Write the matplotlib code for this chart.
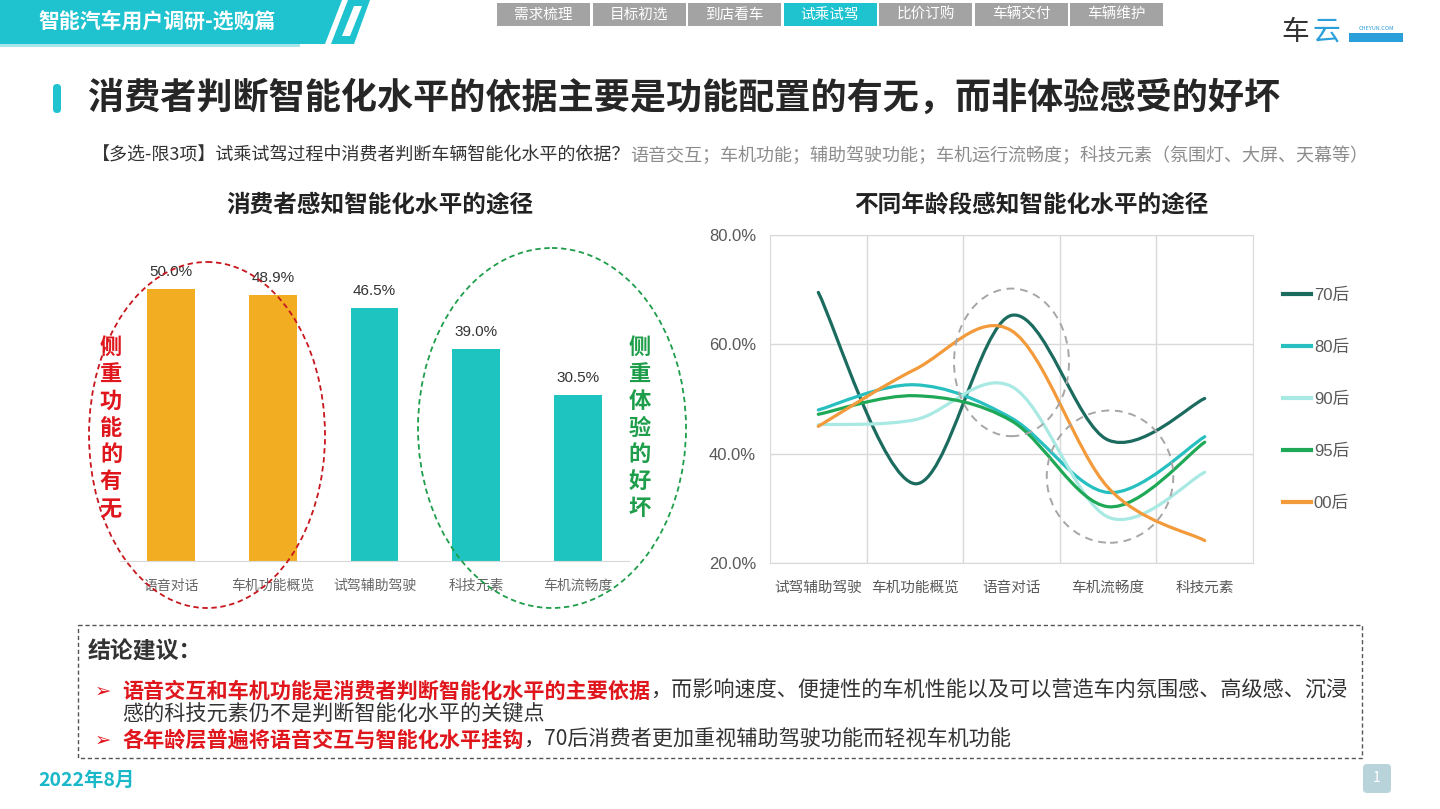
import matplotlib
matplotlib.use('Agg')
import matplotlib.pyplot as plt
from matplotlib.patches import Ellipse, Polygon, Rectangle, FancyBboxPatch, PathPatch
from matplotlib.path import Path
from matplotlib.lines import Line2D

plt.rcParams['font.family'] = ['Noto Sans CJK SC', 'DejaVu Sans']

# left chart data
bar_cats = ['语音对话', '车机功能概览', '试驾辅助驾驶', '科技元素', '车机流畅度']
bar_vals = [50.0, 48.9, 46.5, 39.0, 30.5]
bar_colors = ['#F2AD22', '#F2AD22', '#1EC5C0', '#1EC5C0', '#1EC5C0']

# right chart data
line_cats = ['试驾辅助驾驶', '车机功能概览', '语音对话', '车机流畅度', '科技元素']
age_groups = ['70后', '80后', '90后', '95后', '00后']
v70 = [69.5, 34.5, 65.3, 42.5, 50.1]
v80 = [48.0, 52.6, 46.5, 32.9, 43.1]
v90 = [45.3, 46.2, 52.3, 28.4, 36.6]
v95 = [47.2, 50.6, 46.0, 30.3, 42.1]
v00 = [45.0, 55.4, 62.5, 33.8, 24.1]
line_colors = ['#1B6B5F', '#27BFC0', '#A9E9E3', '#1FA956', '#F39A3B']

tabs = ['需求梳理', '目标初选', '到店看车', '试乘试驾', '比价订购', '车辆交付', '车辆维护']
active_tab = '试乘试驾'

TEAL = '#1EC3CF'
W, H = 1440, 809
fig = plt.figure(figsize=(14.4, 8.09), dpi=100)


def px_axes(l, t, r, b, z=1):
    return fig.add_axes([l / W, 1 - b / H, (r - l) / W, (b - t) / H], zorder=z)


def smooth_path(xs, ys):
    # Excel style smoothed line: cubic bezier through every point
    pts = list(zip(xs, ys))
    n = len(pts)
    verts = [pts[0]]
    codes = [Path.MOVETO]
    for i in range(n - 1):
        p0 = pts[i - 1] if i > 0 else pts[i]
        p1, p2 = pts[i], pts[i + 1]
        p3 = pts[i + 2] if i + 2 < n else pts[i + 1]
        c1 = (p1[0] + (p2[0] - p0[0]) / 6, p1[1] + (p2[1] - p0[1]) / 6)
        c2 = (p2[0] - (p3[0] - p1[0]) / 6, p2[1] - (p3[1] - p1[1]) / 6)
        verts += [c1, c2, p2]
        codes += [Path.CURVE4] * 3
    return Path(verts, codes)


bg = px_axes(0, 0, W, H, z=0)
bg.set_xlim(0, W)
bg.set_ylim(H, 0)
bg.axis('off')

# header band
bg.add_patch(Polygon([(0, 0), (342, 0), (325, 44), (0, 44)], color=TEAL, lw=0))
bg.add_patch(Polygon([(348, 0), (370, 0), (354, 44), (331, 44)], color=TEAL, lw=0))
bg.add_patch(Polygon([(354, 6), (362, 6), (350, 36), (342, 36)], color='white', lw=0))
bg.add_patch(Rectangle((0, 44), 300, 3, color='#A8E6EC', lw=0))
bg.text(38, 21, '智能汽车用户调研-选购篇', color='white', fontsize=15, fontweight='bold', va='center')

for i, t in enumerate(tabs):
    x0 = 497 + i * 95.5
    c = TEAL if t == active_tab else '#A3A3A3'
    bg.add_patch(Rectangle((x0, 3), 93, 23, color=c, lw=0))
    bg.text(x0 + 46.5, 14.5, t, color='white', fontsize=10.5, ha='center', va='center')

# logo
bg.text(1295, 32, '车', color='#333333', fontsize=20, ha='center', va='center')
bg.text(1326, 32, '云', color='#2B9FD9', fontsize=20, ha='center', va='center')
bg.text(1376, 28, 'CHEYUN.COM', color='#2B9FD9', fontsize=4, ha='center', va='center')
bg.add_patch(Rectangle((1349, 33), 54, 9, color='#2B9FD9', lw=0))

# title
bg.add_patch(FancyBboxPatch((53, 84), 8, 29, boxstyle='round,pad=0,rounding_size=4', color=TEAL, lw=0))
bg.text(88, 98, '消费者判断智能化水平的依据主要是功能配置的有无，而非体验感受的好坏',
        fontsize=26, fontweight='bold', color='#262626', va='center')

t1 = bg.text(92, 156, '【多选-限3项】试乘试驾过程中消费者判断车辆智能化水平的依据？',
             fontsize=13, color='#333333', va='center')
fig.canvas.draw()
x_end = t1.get_window_extent().x1
bg.text(x_end, 156, '语音交互；车机功能；辅助驾驶功能；车机运行流畅度；科技元素（氛围灯、大屏、天幕等）',
        fontsize=13, color='#8C8C8C', va='center')

# chart titles
bg.text(380, 205, '消费者感知智能化水平的途径', fontsize=17, fontweight='bold', color='#222222',
        ha='center', va='center')
bg.text(1031, 205, '不同年龄段感知智能化水平的途径', fontsize=17, fontweight='bold', color='#222222',
        ha='center', va='center')

# left bar chart
ax1 = px_axes(120, 250, 629, 561)
ax1.set_facecolor('none')
x1 = range(len(bar_cats))
bars = ax1.bar(x1, bar_vals, width=0.47, color=bar_colors)
for b, v in zip(bars, bar_vals):
    ax1.annotate(f'{v:.1f}%', (b.get_x() + b.get_width() / 2, v), xytext=(0, 7),
                 textcoords='offset points', ha='center', va='bottom', fontsize=11,
                 color='#333333', family=['Liberation Sans', 'Noto Sans CJK SC'])
ax1.set_xlim(-0.5, 4.5)
ax1.set_ylim(0, (561 - 250) / 5.44)
ax1.set_xticks(list(x1))
ax1.set_xticklabels(bar_cats, fontsize=10, color='#666666')
ax1.tick_params(axis='x', length=0, pad=13)
ax1.set_yticks([])
for s in ['top', 'left', 'right']:
    ax1.spines[s].set_visible(False)
ax1.spines['bottom'].set_color('#D9D9D9')

# right line chart
ax2 = px_axes(770, 235, 1253, 563)
xs = list(range(len(line_cats)))
for name, vals, c in zip(age_groups, [v70, v80, v90, v95, v00], line_colors):
    ax2.add_patch(PathPatch(smooth_path(xs, vals), fill=False, edgecolor=c, lw=2.3,
                            capstyle='round', zorder=3))
ax2.set_xlim(-0.5, 4.5)
ax2.set_ylim(20, 80)
ax2.set_yticks([20, 40, 60, 80])
ax2.set_yticklabels([f'{v:.1f}%' for v in [20, 40, 60, 80]], fontsize=12, color='#595959',
                    family=['Liberation Sans', 'Noto Sans CJK SC'])
ax2.set_xticks(xs)
ax2.set_xticklabels(line_cats, fontsize=10.5, color='#595959')
ax2.set_xticks([0.5, 1.5, 2.5, 3.5], minor=True)
ax2.tick_params(which='both', length=0)
ax2.tick_params(axis='x', pad=13)
ax2.tick_params(axis='y', pad=10)
ax2.grid(True, which='major', axis='y', color='#D9D9D9', lw=1)
ax2.grid(True, which='minor', axis='x', color='#D9D9D9', lw=1)
for s in ax2.spines.values():
    s.set_color('#D9D9D9')

ax2.add_patch(Ellipse((2.0, 56.7), 1.19, 27, fill=False, ls=(0, (4, 3)), edgecolor='#A6A6A6',
                      lw=1.4, clip_on=False, zorder=4))
ax2.add_patch(Ellipse((3.02, 35.8), 1.31, 24.2, fill=False, ls=(0, (4, 3)), edgecolor='#A6A6A6',
                      lw=1.4, clip_on=False, zorder=4))

handles = [Line2D([], [], color=c, lw=3) for c in line_colors]
ax2.legend(handles, age_groups, loc='upper left', bbox_to_anchor=(1283 / W, 1 - 288 / H),
           bbox_transform=fig.transFigure, frameon=False, handlelength=1.7,
           handletextpad=0.15, labelspacing=2.2, borderpad=0, borderaxespad=0,
           labelcolor='#595959', prop={'family': ['Liberation Sans', 'Noto Sans CJK SC'], 'size': 12})

# overlay for annotations on left chart
top = px_axes(0, 0, W, H, z=5)
top.set_facecolor('none')
top.set_xlim(0, W)
top.set_ylim(H, 0)
top.axis('off')
top.add_patch(Ellipse((207, 435), 236, 346, fill=False, ls=(0, (3, 2)), edgecolor='#C8161D', lw=1.3))
top.add_patch(Ellipse((552, 428), 268, 360, fill=False, ls=(0, (3, 2)), edgecolor='#1E9E4A', lw=1.3))
top.text(111, 428, '\n'.join('侧重功能的有无'), color='#E0161D', fontsize=16, fontweight='bold',
         ha='center', va='center', linespacing=1.22)
top.text(640, 428, '\n'.join('侧重体验的好坏'), color='#1E9E4A', fontsize=16, fontweight='bold',
         ha='center', va='center', linespacing=1.22)

# conclusion box
bg.add_patch(Rectangle((78, 625), 1284, 133, fill=False, ls=(0, (3, 2)), edgecolor='#555555', lw=1))
bg.text(88, 652, '结论建议：', fontsize=16.5, fontweight='bold', color='#333333', va='center')

lines = [
    ('语音交互和车机功能是消费者判断智能化水平的主要依据', '，而影响速度、便捷性的车机性能以及可以营造车内氛围感、高级感、沉浸', 691, True),
    ('', '感的科技元素仍不是判断智能化水平的关键点', 714, False),
    ('各年龄层普遍将语音交互与智能化水平挂钩', '，70后消费者更加重视辅助驾驶功能而轻视车机功能', 740, True),
]
fig.canvas.draw()
for red, rest, y, bullet in lines:
    if bullet:
        bg.text(95, y, '➢', color='#E0161D', fontsize=14, va='center', family=['DejaVu Sans'])
    x = 122
    if red:
        tr = bg.text(x, y, red, color='#E0161D', fontsize=15.2, fontweight='bold', va='center')
        fig.canvas.draw()
        x = tr.get_window_extent().x1
    bg.text(x, y, rest, color='#333333', fontsize=15.2, va='center')

# footer
bg.text(38, 780, '2022年8月', color='#1AB8C8', fontsize=14, fontweight='bold', va='center')
bg.add_patch(FancyBboxPatch((1363, 764), 28, 29, boxstyle='round,pad=0,rounding_size=4',
                            color='#B9D3DB', lw=0))
bg.text(1377, 778, '1', color='white', fontsize=10, ha='center', va='center')

fig.savefig('out.png', dpi=100)
